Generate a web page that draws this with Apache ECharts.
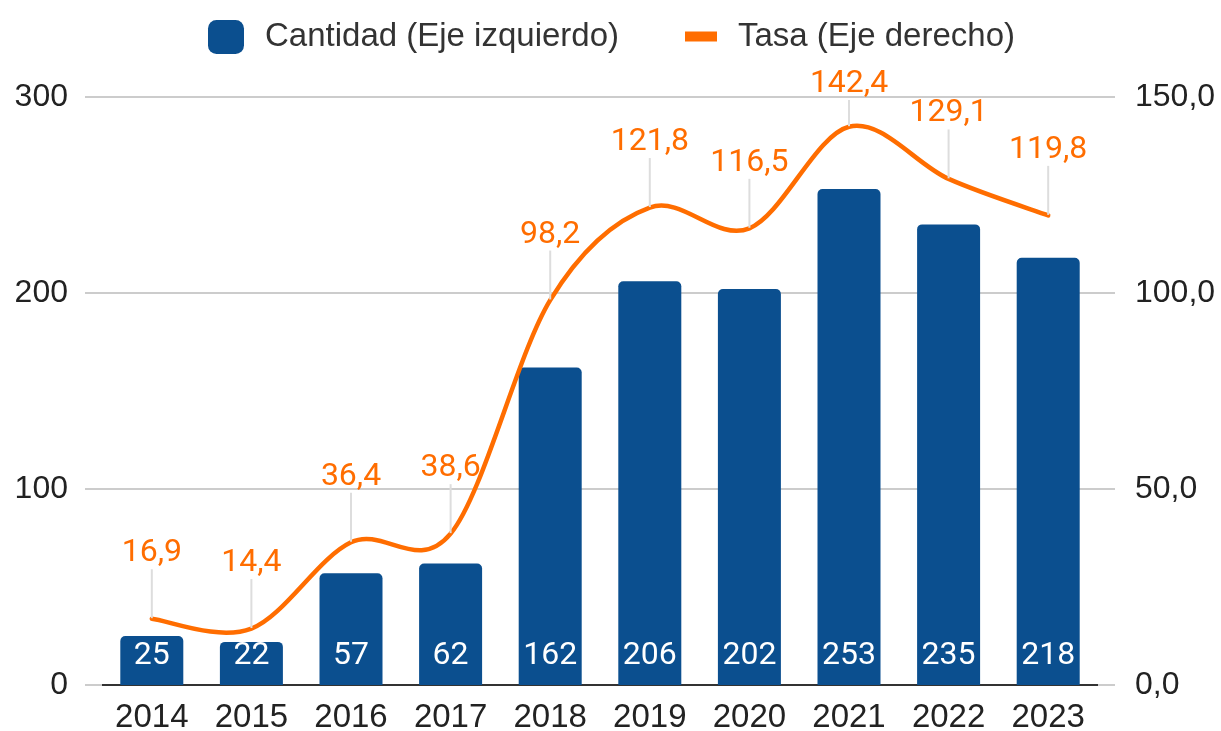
<!DOCTYPE html>
<html>
<head>
<meta charset="utf-8">
<script src="https://cdn.jsdelivr.net/npm/echarts@6/dist/echarts.min.js"></script>
<style>
  html, body { margin: 0; padding: 0; background: #fff; }
  #main { width: 1221px; height: 731px; }
</style>
</head>
<body>
<div id="main"></div>
<script>
// datos
var years = ['2014', '2015', '2016', '2017', '2018', '2019', '2020', '2021', '2022', '2023'];
var cantidad = [25, 22, 57, 62, 162, 206, 202, 253, 235, 218];
var tasa = [16.9, 14.4, 36.4, 38.6, 98.2, 121.8, 116.5, 142.4, 129.1, 119.8];

var chart = echarts.init(document.getElementById('main'));

var fmt = function (v) { return v.toFixed(1).replace('.', ','); };
var legendText = { fontFamily: 'Liberation Sans', fontSize: 33, color: '#333', padding: [0, 0, 0, 16] };

// curva tipo Catmull-Rom a partir de los puntos de la serie (coordenadas via api.coord)
function renderCurve(params, api) {
  if (params.dataIndex !== 0) return;
  var pts = tasa.map(function (v, i) { return api.coord([i, v]); });
  var d = 'M' + pts[0][0] + ',' + pts[0][1];
  for (var i = 0; i < pts.length - 1; i++) {
    var p0 = pts[Math.max(i - 1, 0)], p1 = pts[i], p2 = pts[i + 1], p3 = pts[Math.min(i + 2, pts.length - 1)];
    var c1x = p1[0] + (p2[0] - p0[0]) / 6, c1y = p1[1] + (p2[1] - p0[1]) / 6;
    var c2x = p2[0] - (p3[0] - p1[0]) / 6, c2y = p2[1] - (p3[1] - p1[1]) / 6;
    d += 'C' + c1x + ',' + c1y + ',' + c2x + ',' + c2y + ',' + p2[0] + ',' + p2[1];
  }
  return {
    type: 'path',
    shape: { pathData: d },
    style: { fill: null, stroke: '#ff6d00', lineWidth: 4.5, lineCap: 'round', lineJoin: 'round' }
  };
}

var option = {
  animation: false,
  legend: [
    {
      left: 203, top: 15,
      itemWidth: 36, itemHeight: 34,
      textStyle: legendText,
      data: [{ name: 'Cantidad (Eje izquierdo)', icon: 'roundRect' }]
    },
    {
      left: 680, top: 15,
      itemWidth: 32, itemHeight: 10,
      textStyle: legendText,
      data: [{ name: 'Tasa (Eje derecho)', icon: 'rect', itemStyle: { color: '#ff6d00' } }]
    }
  ],
  grid: { left: 102, right: 123, top: 97, bottom: 46, containLabel: false, outerBoundsMode: 'none' },
  xAxis: {
    type: 'category',
    data: years,
    axisTick: { show: false },
    axisLine: { lineStyle: { color: '#333', width: 2 } },
    axisLabel: { fontFamily: 'Liberation Sans', fontSize: 33, color: '#222', margin: 16 }
  },
  yAxis: [
    {
      type: 'value', min: 0, max: 300, interval: 100,
      axisLine: { show: false },
      axisTick: { show: true, length: 17, lineStyle: { color: '#ccc', width: 2 } },
      splitLine: { lineStyle: { color: '#ccc', width: 2 } },
      axisLabel: { fontFamily: 'Liberation Sans', fontSize: 32, color: '#222', margin: 34 }
    },
    {
      type: 'value', min: 0, max: 150, interval: 50,
      axisLine: { show: false },
      axisTick: { show: true, length: 17, lineStyle: { color: '#ccc', width: 2 } },
      splitLine: { show: false },
      axisLabel: { fontFamily: 'Liberation Sans', fontSize: 32, color: '#222', margin: 37, formatter: fmt }
    }
  ],
  series: [
    {
      name: 'Cantidad (Eje izquierdo)',
      type: 'bar',
      data: cantidad,
      barWidth: 63,
      itemStyle: { color: '#0b4f8f', borderRadius: [5, 5, 0, 0] },
      label: {
        show: true, position: 'insideBottom', distance: 13,
        color: '#fff', fontFamily: 'Roboto', fontSize: 32
      }
    },
    {
      type: 'custom',
      yAxisIndex: 1,
      data: tasa.map(function (v, i) { return [i, v]; }),
      encode: { x: 0, y: 1 },
      renderItem: renderCurve,
      silent: true,
      z: 4
    },
    {
      name: 'Tasa (Eje derecho)',
      type: 'line',
      yAxisIndex: 1,
      data: tasa,
      showSymbol: true,
      symbol: 'circle',
      symbolSize: 1,
      z: 5,
      lineStyle: { color: '#ff6d00', width: 4.5, opacity: 0 },
      itemStyle: { color: '#ff6d00' },
      label: {
        show: true, position: 'top', distance: 0,
        color: '#ff6d00', fontFamily: 'Roboto', fontSize: 32,
        formatter: function (p) { return fmt(p.value); }
      },
      labelLine: { show: true, lineStyle: { color: '#ddd', width: 2 } },
      labelLayout: function (p) {
        var dy = -49;
        if (p.labelRect.y + dy < 68) dy = 68 - p.labelRect.y;
        return { dy: dy };
      }
    }
  ]
};

chart.setOption(option);
</script>
</body>
</html>
